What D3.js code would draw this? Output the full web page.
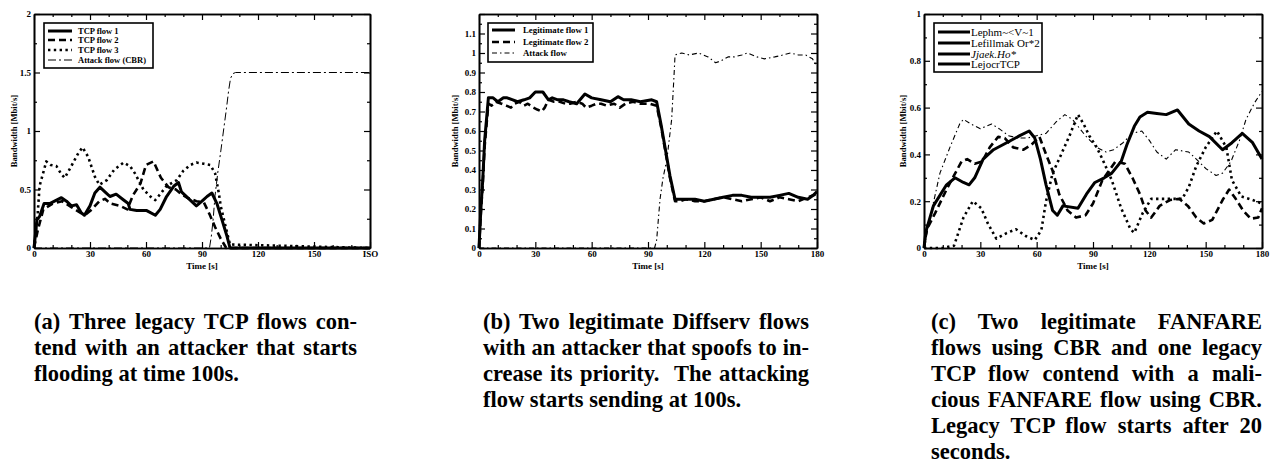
<!DOCTYPE html>
<html>
<head>
<meta charset="utf-8">
<script src="https://cdn.jsdelivr.net/npm/d3@7"></script>
<style>
  body { margin: 0; background: #fff; }
  #wrap { position: relative; width: 1270px; height: 475px; }
  svg { position: absolute; left: 0; top: 0; }
  .cap { position: absolute; font-family: "Liberation Serif", "Times New Roman", serif; font-weight: bold;
         font-size: 22.5px; line-height: 26px; color: #000; }
  .cap div { text-align: justify; text-align-last: justify; }
  .cap div.last { text-align-last: left; }
</style>
</head>
<body>
<div id="wrap">
  <svg id="chart" width="1270" height="475"></svg>
</div>
<script>
// ---------- panel (a) ----------
const aTime1 = [0,1.6,3,5.4,8.4,11,14.7,17.4,20,22.8,25.4,27,30,32.6,35.3,38,40.7,44,48,50.5,51.4,55,60.4,65,67.6,71,75,77.4,79,83.7,87,90,92.7,95.3,98,100.7,103.4,105,180];
const aTcp1  = [0,0.24,0.27,0.38,0.38,0.40,0.43,0.40,0.36,0.37,0.30,0.28,0.36,0.47,0.52,0.48,0.44,0.46,0.41,0.38,0.33,0.32,0.32,0.28,0.33,0.44,0.53,0.56,0.48,0.41,0.36,0.40,0.44,0.47,0.38,0.24,0.10,0,0];
const aTime2 = [0,2,5,10,15,20,25,28,31,35,38,41,46,50,53,57,60,64,68,72,76,79,82,87,91,94,97,100,103,180];
const aTcp2  = [0,0.15,0.33,0.38,0.40,0.35,0.30,0.29,0.33,0.40,0.42,0.38,0.36,0.33,0.45,0.55,0.71,0.74,0.60,0.52,0.50,0.46,0.43,0.40,0.39,0.29,0.18,0.08,0,0];
const aTime3 = [0,2,3,6.6,9,12,14.7,16.5,20,23.7,26,29,32.6,35,39,43,48,51.4,54,56,58.6,63,65,67.6,71,76.5,80,83.7,87,91,94.4,97,99,100,103,105,180];
const aTcp3  = [0,0.30,0.53,0.74,0.71,0.70,0.63,0.60,0.70,0.81,0.86,0.78,0.61,0.54,0.58,0.67,0.73,0.70,0.64,0.58,0.50,0.43,0.41,0.46,0.53,0.58,0.66,0.71,0.73,0.72,0.71,0.64,0.47,0.36,0.16,0.03,0];
const aTime4 = [0,94,95,96,97,98.5,100,101.5,103,104.3,105.3,106.5,108,180];
const aAttack = [0,0,0.1,0.25,0.45,0.65,0.82,1.0,1.18,1.35,1.45,1.49,1.5,1.5];

// ---------- panel (b) ----------
const bTime1 = [0,1,2,3,5,7.5,10,13,15,18,20.5,24,27,30,34,37,39,42,45,48,52,56.4,60,65,70,74,77,81,86,92,94.6,97,99,101.7,104.4,107,110,115,120,125,130,135,140,145,150,155,160,165,170,175,178,180];
const bLeg1  = [0,0.2,0.35,0.55,0.77,0.77,0.75,0.77,0.77,0.76,0.75,0.76,0.77,0.80,0.80,0.76,0.77,0.76,0.76,0.75,0.74,0.79,0.77,0.76,0.75,0.776,0.76,0.76,0.75,0.76,0.75,0.63,0.52,0.37,0.25,0.25,0.25,0.25,0.24,0.25,0.26,0.27,0.27,0.26,0.26,0.26,0.27,0.28,0.26,0.25,0.27,0.29];
const bTime2 = [0,1,2,3,5,6.7,9,12,14.5,17,19,21.5,24,26,29,31,33.4,35,37,40,43,46,48.5,52,55,57,60,62.7,65,68,72,75,78,82,86,91,94.6,97,99,101.7,104.4,107,110,115,120,125,130,135,140,145,150,155,160,165,170,175,178,180];
const bLeg2  = [0,0.18,0.33,0.52,0.74,0.73,0.75,0.74,0.73,0.72,0.74,0.75,0.73,0.74,0.72,0.71,0.70,0.72,0.76,0.75,0.75,0.74,0.74,0.75,0.74,0.72,0.73,0.74,0.74,0.73,0.74,0.72,0.74,0.75,0.74,0.74,0.73,0.62,0.51,0.36,0.24,0.24,0.25,0.24,0.24,0.25,0.26,0.25,0.24,0.25,0.26,0.24,0.26,0.25,0.24,0.26,0.27,0.28];
const bTime3 = [0,93.5,94.6,96.4,98,100,102.6,104,104.4,108,112,117,122,126,129,132.6,136,140,143,148,152,157.5,162,166,170,174,177.6,180];
const bAttack = [0,0,0.04,0.25,0.36,0.45,0.66,0.91,0.99,1.0,0.99,1.0,0.98,0.95,0.96,0.98,0.98,0.99,1.0,0.98,0.97,0.98,0.99,1.0,0.99,0.99,0.97,0.93];

// ---------- panel (c) ----------
const cTime1 = [0,1,5,12,16.5,21,24,27,31.5,37,44,51,56,59,62,65,68.5,71,74,82,86.5,91,96,100,105,108,112,115,119,124,129,135,141,146.5,152,159,164,169.5,175,180];
const cLeg1  = [0,0.07,0.18,0.27,0.30,0.28,0.27,0.30,0.38,0.42,0.45,0.48,0.50,0.47,0.38,0.27,0.16,0.14,0.18,0.17,0.23,0.28,0.30,0.32,0.37,0.44,0.52,0.56,0.58,0.575,0.57,0.59,0.53,0.50,0.476,0.42,0.45,0.49,0.45,0.38];
const cTime2 = [0,1.5,6,12,16,20,23,27,31,35,39.5,43,47.5,53,57,61.5,65,68.5,72,76.5,81,86,90,95,102,107,111,115,118,121,125.5,131,136,140.5,145,149,153.5,159,162.5,166,170,174,178,180];
const cLeg2  = [0,0.08,0.15,0.25,0.31,0.37,0.38,0.36,0.37,0.43,0.475,0.47,0.43,0.42,0.44,0.475,0.40,0.33,0.23,0.16,0.13,0.14,0.19,0.29,0.37,0.36,0.30,0.23,0.16,0.13,0.18,0.205,0.21,0.18,0.13,0.105,0.12,0.205,0.25,0.21,0.16,0.125,0.13,0.17];
const cTime3 = [0,3,8.5,13.8,19,21,25,30,36,40,45,50,55,60,65,70.5,75,79,86,92,97,101,106,111,116,120,124,129,134,141,145,150,155.5,159,163.5,168,171.5,176,180];
const cAttack = [0,0.12,0.32,0.43,0.53,0.55,0.53,0.51,0.53,0.51,0.48,0.47,0.47,0.48,0.49,0.54,0.57,0.55,0.48,0.43,0.41,0.42,0.45,0.49,0.50,0.46,0.41,0.38,0.42,0.41,0.38,0.34,0.31,0.32,0.37,0.46,0.55,0.62,0.67];
const cTime4 = [0,10,16,21,26,30.5,34,38.5,44,49,54.5,59,62.5,65,68.5,72.5,77.5,82,85,88,92,95,100,105,110,112,116.5,121,129,137.5,141,145,150,156,161,164,169,175,180];
const cLegacy = [0,0,0.01,0.13,0.20,0.17,0.105,0.04,0.064,0.08,0.05,0.034,0.077,0.20,0.32,0.39,0.48,0.57,0.53,0.48,0.43,0.38,0.29,0.17,0.08,0.065,0.15,0.21,0.21,0.21,0.26,0.35,0.43,0.50,0.43,0.29,0.22,0.205,0.19];

// ---------- ticks and labels ----------
const xMajor = [0,30,60,90,120,150,180];
const xMinor = [10,20,40,50,70,80,100,110,130,140,160,170];
const aXLabels = ["0","30","60","90","120","150","ISO"];
const xLabels = ["0","30","60","90","120","150","180"];
const aYMajor = [0,0.5,1,1.5,2];
const aYLabels = ["0","0.5","1","1.5","2"];
const aYMinor = [0.25,0.75,1.25,1.75];
const bYMajor = [0,0.1,0.2,0.3,0.4,0.5,0.6,0.7,0.8,0.9,1,1.1,1.2];
const bYLabels = ["0","0.1","0.2","0.3","0.4","0.5","0.6","0.7","0.8","0.9","1","1.1",""];
const bYMinor = [0.05,0.15,0.25,0.35,0.45,0.55,0.65,0.75,0.85,0.95,1.05,1.15];
const cYMajor = [0,0.2,0.4,0.6,0.8,1];
const cYLabels = ["0","0.2","0.4","0.6","0.8","1"];
const cYMinor = [0.1,0.3,0.5,0.7,0.9];

const aLegend = ["TCP flow 1","TCP flow 2","TCP flow 3","Attack flow (CBR)"];
const bLegend = ["Legitimate flow 1","Legitimate flow 2","Attack flow"];
const cLegend = ["Lephm~<V~1","Lefillmak Or*2","Jjaek.Ho*","LejocrTCP"];

const lineStyles = {
  solid:   { w: 3,   dash: null },
  dashed:  { w: 2.6, dash: "7,4" },
  dotted:  { w: 2.6, dash: "2.4,3.4" },
  dashdot: { w: 1,   dash: "8,3,2,3" },
  thin:    { w: 1.1, dash: "5,3,1.5,3" }
};

const serif = '"Liberation Serif", "Times New Roman", serif';
const svg = d3.select('#chart');

function drawPanel(cfg) {
  const w = cfg.right - cfg.left, h = cfg.bottom - cfg.top;
  const g = svg.append('g').attr('transform', `translate(${cfg.left},${cfg.top})`);

  const x = d3.scaleLinear().domain([0, 180]).range([0, w]);
  const y = d3.scaleLinear().domain([0, cfg.yMax]).range([h, 0]);

  // series
  const line = d3.line().x(d => x(d[0])).y(d => y(d[1]));
  cfg.series.forEach(s => {
    const st = lineStyles[s.style];
    g.append('path')
      .datum(d3.zip(s.t, s.v))
      .attr('fill', 'none')
      .attr('stroke', '#000')
      .attr('stroke-width', st.w)
      .attr('stroke-dasharray', st.dash)
      .attr('stroke-linejoin', 'round')
      .attr('d', line);
  });

  // box axes, ticks inward on all sides
  const bottom = g.append('g').attr('transform', `translate(0,${h})`)
    .call(d3.axisBottom(x).tickValues(xMajor).tickSize(-6).tickSizeOuter(0).tickPadding(3)
      .tickFormat((d, i) => cfg.xLabels[i]));
  g.append('g').attr('transform', `translate(0,${h})`)
    .call(d3.axisBottom(x).tickValues(xMinor).tickSize(-3).tickSizeOuter(0).tickFormat(''));
  g.append('g').call(d3.axisTop(x).tickValues(xMajor).tickSize(-6).tickSizeOuter(0).tickFormat(''));
  g.append('g').call(d3.axisTop(x).tickValues(xMinor).tickSize(-3).tickSizeOuter(0).tickFormat(''));
  const left = g.append('g')
    .call(d3.axisLeft(y).tickValues(cfg.yMajor).tickSize(-6).tickSizeOuter(0).tickPadding(3)
      .tickFormat((d, i) => cfg.yLabels[i]));
  g.append('g').call(d3.axisLeft(y).tickValues(cfg.yMinor).tickSize(-3).tickSizeOuter(0).tickFormat(''));
  g.append('g').attr('transform', `translate(${w},0)`)
    .call(d3.axisRight(y).tickValues(cfg.yMajor).tickSize(-6).tickSizeOuter(0).tickFormat(''));
  g.append('g').attr('transform', `translate(${w},0)`)
    .call(d3.axisRight(y).tickValues(cfg.yMinor).tickSize(-3).tickSizeOuter(0).tickFormat(''));

  g.selectAll('.domain').attr('stroke-width', 1.6);
  g.selectAll('.tick line').attr('stroke-width', 1.2);
  [bottom, left].forEach(a => a.selectAll('text')
    .attr('font-family', serif).attr('font-weight', 'bold').attr('font-size', 9));

  // titles
  g.append('text')
    .attr('x', w / 2).attr('y', h + 21)
    .attr('text-anchor', 'middle')
    .attr('font-family', serif).attr('font-weight', 'bold').attr('font-size', 9)
    .text('Time [s]');
  g.append('text')
    .attr('transform', `translate(${cfg.yTitleX - cfg.left},${h / 2}) rotate(-90)`)
    .attr('text-anchor', 'middle').attr('dy', '0.35em')
    .attr('font-family', serif).attr('font-weight', 'bold').attr('font-size', 8.6)
    .text('Bandwidth [Mbit/s]');

  // legend
  const lg = cfg.legend;
  const lgG = svg.append('g');
  lgG.append('rect')
    .attr('x', lg.x).attr('y', lg.y).attr('width', lg.w).attr('height', lg.h)
    .attr('fill', '#fff').attr('stroke', '#000').attr('stroke-width', 1.6);
  lg.labels.forEach((lab, i) => {
    const yy = lg.rows[i];
    const st = lineStyles[lg.styles[i]];
    lgG.append('line')
      .attr('x1', lg.lx0).attr('x2', lg.lx1).attr('y1', yy).attr('y2', yy)
      .attr('stroke', '#000').attr('stroke-width', st.w).attr('stroke-dasharray', st.dash);
    lgG.append('text')
      .attr('x', lg.tx).attr('y', yy).attr('dy', '0.35em')
      .attr('font-family', serif)
      .attr('font-weight', lg.bold ? 'bold' : 'normal')
      .attr('font-style', lg.italic && lg.italic[i] ? 'italic' : 'normal')
      .attr('font-size', lg.size)
      .text(lab);
  });
}

drawPanel({
  left: 34, right: 370, top: 14, bottom: 248, yMax: 2, yTitleX: 14,
  yMajor: aYMajor, yLabels: aYLabels, yMinor: aYMinor, xLabels: aXLabels,
  series: [
    { t: aTime4, v: aAttack, style: 'dashdot' },
    { t: aTime3, v: aTcp3, style: 'dotted' },
    { t: aTime2, v: aTcp2, style: 'dashed' },
    { t: aTime1, v: aTcp1, style: 'solid' }
  ],
  legend: { x: 44, y: 23, w: 109, h: 45, rows: [31, 40, 50, 60], lx0: 48, lx1: 72, tx: 78,
            size: 8.5, bold: true, labels: aLegend, styles: ['solid', 'dashed', 'dotted', 'dashdot'] }
});

drawPanel({
  left: 479, right: 817, top: 14, bottom: 248, yMax: 1.2, yTitleX: 455,
  yMajor: bYMajor, yLabels: bYLabels, yMinor: bYMinor, xLabels: xLabels,
  series: [
    { t: bTime3, v: bAttack, style: 'thin' },
    { t: bTime2, v: bLeg2, style: 'dashed' },
    { t: bTime1, v: bLeg1, style: 'solid' }
  ],
  legend: { x: 488, y: 23, w: 105, h: 39, rows: [30, 42, 53], lx0: 492, lx1: 515, tx: 523,
            size: 8.8, bold: true, labels: bLegend, styles: ['solid', 'dashed', 'thin'] }
});

drawPanel({
  left: 924, right: 1262, top: 14, bottom: 248, yMax: 1, yTitleX: 903,
  yMajor: cYMajor, yLabels: cYLabels, yMinor: cYMinor, xLabels: xLabels,
  series: [
    { t: cTime3, v: cAttack, style: 'thin' },
    { t: cTime4, v: cLegacy, style: 'dotted' },
    { t: cTime2, v: cLeg2, style: 'dashed' },
    { t: cTime1, v: cLeg1, style: 'solid' }
  ],
  legend: { x: 934, y: 23, w: 108, h: 49, rows: [32, 43, 54, 64], lx0: 938, lx1: 970, tx: 971,
            size: 11, bold: false, italic: [false, false, true, false], labels: cLegend,
            styles: ['solid', 'solid', 'solid', 'solid'] }
});

// captions
const captionA = ["(a) Three legacy TCP flows con-", "tend with an attacker that starts", "flooding at time 100s."];
const captionB = ["(b) Two legitimate Diffserv flows", "with an attacker that spoofs to in-", "crease its priority.\u00a0 The attacking", "flow starts sending at 100s."];
const captionC = ["(c) Two legitimate FANFARE", "flows using CBR and one legacy", "TCP flow contend with a mali-", "cious FANFARE flow using CBR.", "Legacy TCP flow starts after 20", "seconds."];

function caption(lines, left, width) {
  const c = d3.select('#wrap').append('div').attr('class', 'cap')
    .style('left', left + 'px').style('top', '309px').style('width', width + 'px');
  c.selectAll('div').data(lines).join('div')
    .classed('last', (d, i) => i === lines.length - 1)
    .text(d => d);
}
caption(captionA, 34, 323);
caption(captionB, 483, 326);
caption(captionC, 931, 331);
</script>
</body>
</html>
